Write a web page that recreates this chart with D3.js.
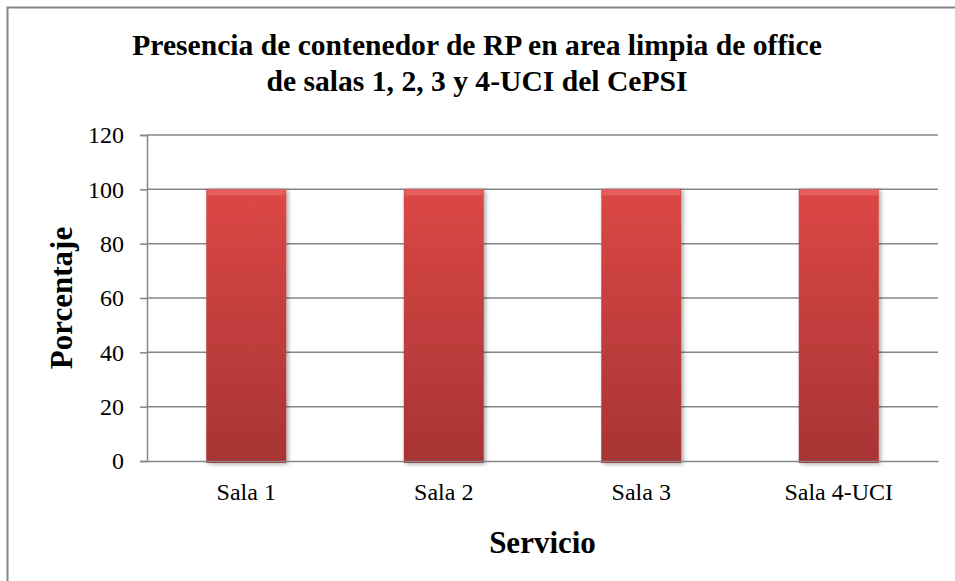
<!DOCTYPE html>
<html>
<head>
<meta charset="utf-8">
<title>Presencia de contenedor de RP</title>
<script src="https://cdnjs.cloudflare.com/ajax/libs/d3/7.8.5/d3.min.js"></script>
<style>
  body { margin: 0; background: #fff; }
  text { font-family: "Liberation Serif", "Times New Roman", serif; fill: #000; }
</style>
</head>
<body>
<script>
// data
var categories = ["Sala 1", "Sala 2", "Sala 3", "Sala 4-UCI"];
var values = [100, 100, 100, 100];
var yTicks = [0, 20, 40, 60, 80, 100, 120];
var titleLines = ["Presencia de contenedor de RP en area limpia de office", "de salas 1, 2, 3 y 4-UCI del CePSI"];

var w = 955, h = 581;
var plot = {left: 147, right: 938, top: 135, bottom: 461};

var svg = d3.select("body").append("svg")
    .attr("width", w)
    .attr("height", h);

var defs = svg.append("defs");
var grad = defs.append("linearGradient")
    .attr("id", "barGrad")
    .attr("x1", 0).attr("y1", 0).attr("x2", 0).attr("y2", 1);
grad.append("stop").attr("offset", "0%").attr("stop-color", "#dc4746");
grad.append("stop").attr("offset", "100%").attr("stop-color", "#a73434");

var shadow = defs.append("filter").attr("id", "shadow")
    .attr("x", "-20%").attr("y", "-5%").attr("width", "140%").attr("height", "110%");
shadow.append("feDropShadow")
    .attr("dx", 2).attr("dy", 1).attr("stdDeviation", 2)
    .attr("flood-color", "#000").attr("flood-opacity", 0.35);

// chart border (runs past the right and bottom edge)
svg.append("rect")
    .attr("x", 7.5).attr("y", 7.5)
    .attr("width", 960).attr("height", 600)
    .attr("fill", "none")
    .attr("stroke", "#868686")
    .attr("stroke-width", 2);

var x = d3.scaleBand()
    .domain(categories)
    .range([plot.left, plot.right])
    .paddingInner(0.595)
    .paddingOuter(0.3);

var y = d3.scaleLinear()
    .domain([0, 120])
    .range([plot.bottom, plot.top]);

// gridlines
svg.append("g").selectAll("line")
    .data(yTicks.filter(function(d) { return d > 0; }))
    .enter().append("line")
    .attr("x1", plot.left).attr("x2", plot.right)
    .attr("y1", function(d) { return y(d); })
    .attr("y2", function(d) { return y(d); })
    .attr("stroke", "#868686")
    .attr("stroke-width", 1.5);

// y axis
var yAxis = d3.axisLeft(y).tickValues(yTicks).tickSize(7).tickPadding(16);
var gy = svg.append("g")
    .attr("transform", "translate(" + plot.left + ",0)")
    .call(yAxis);
gy.selectAll("path, line").attr("stroke", "#868686").attr("stroke-width", 1.5);
gy.selectAll("text")
    .style("font-family", "'Liberation Serif', serif")
    .style("font-size", "24px")
    .attr("fill", "#000");

// bars
var bars = svg.append("g").selectAll("g.bar")
    .data(values)
    .enter().append("g")
    .attr("class", "bar");

bars.append("rect")
    .attr("x", function(d, i) { return x(categories[i]); })
    .attr("y", function(d) { return y(d); })
    .attr("width", x.bandwidth())
    .attr("height", function(d) { return y(0) - y(d) + 2; })
    .attr("fill", "url(#barGrad)")
    .attr("filter", "url(#shadow)");

// bevel highlight at the top of each bar
bars.append("rect")
    .attr("x", function(d, i) { return x(categories[i]) + 1; })
    .attr("y", function(d) { return y(d); })
    .attr("width", x.bandwidth() - 2)
    .attr("height", 6)
    .attr("fill", "#ea6a68")
    .attr("opacity", 0.7);

// x axis line
var xAxis = d3.axisBottom(x).tickSize(0).tickPadding(22);
var gx = svg.append("g")
    .attr("transform", "translate(0," + plot.bottom + ")")
    .call(xAxis);
gx.select("path").attr("stroke", "#868686").attr("stroke-width", 1.5);
gx.selectAll("text")
    .style("font-family", "'Liberation Serif', serif")
    .style("font-size", "24px")
    .attr("fill", "#000");

// title
svg.append("g").selectAll("text")
    .data(titleLines)
    .enter().append("text")
    .attr("x", 477)
    .attr("y", function(d, i) { return 55 + i * 36; })
    .attr("text-anchor", "middle")
    .attr("font-weight", "bold")
    .attr("font-size", 29.6)
    .text(function(d) { return d; });

// axis titles
svg.append("text")
    .attr("x", (plot.left + plot.right) / 2)
    .attr("y", 553)
    .attr("text-anchor", "middle")
    .attr("font-weight", "bold")
    .attr("font-size", 31)
    .text("Servicio");

svg.append("text")
    .attr("transform", "translate(72," + (plot.top + plot.bottom) / 2 + ") rotate(-90)")
    .attr("text-anchor", "middle")
    .attr("font-weight", "bold")
    .attr("font-size", 31)
    .text("Porcentaje");
</script>
</body>
</html>
